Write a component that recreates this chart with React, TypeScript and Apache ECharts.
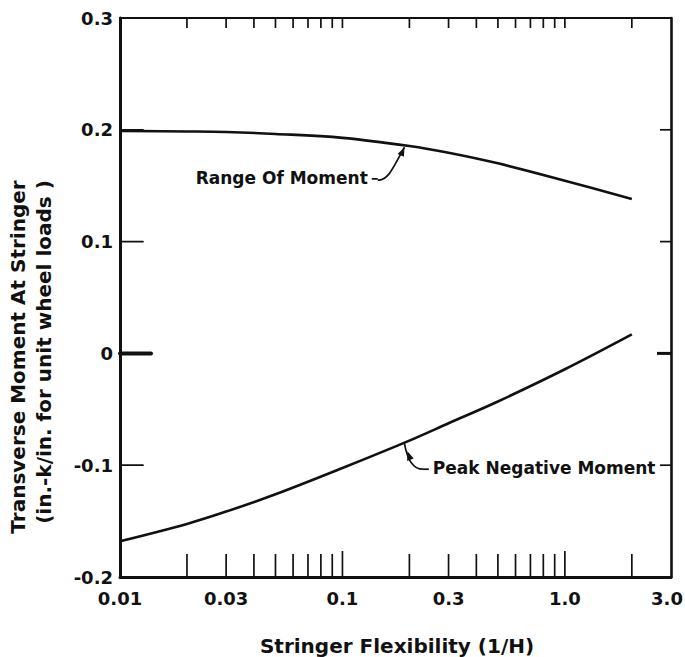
import React, { useEffect, useRef } from "react";
import * as echarts from "echarts";

// ---- data ----
const xValues = [0.01, 0.02, 0.03, 0.05, 0.1, 0.2, 0.3, 0.5, 1.0, 2.0];
const rangeOfMoment = [0.199, 0.1985, 0.198, 0.1963, 0.1928, 0.1855, 0.1795, 0.17, 0.1545, 0.138];
const peakNegativeMoment = [-0.168, -0.1525, -0.1415, -0.126, -0.1025, -0.078, -0.0625, -0.043, -0.0142, 0.017];

const xTickValues = [0.02, 0.03, 0.04, 0.05, 0.06, 0.07, 0.08, 0.09, 0.1, 0.2, 0.3, 0.4, 0.5, 0.6, 0.7, 0.8, 0.9, 1.0, 2.0];
const xLabelValues = [0.01, 0.03, 0.1, 0.3, 1.0, 3.0];
const xLabelTexts = ["0.01", "0.03", "0.1", "0.3", "1.0", "3.0"];
const yTickValues = [0.2, 0.1, 0, -0.1];

const xTitle = "Stringer Flexibility (1/H)";
const yTitle1 = "Transverse Moment At Stringer";
const yTitle2 = "(in.-k/in. for unit wheel loads )";
const rangeLabel = "Range Of Moment";
const peakLabel = "Peak Negative Moment";

// annotation anchors in data units
const rangeArrowAt = [0.19, 0.1862];
const rangeLabelAt = [0.13, 0.157];
const peakArrowAt = [0.19, -0.0795];
const peakLabelAt = [0.255, -0.1027];

const FONT = "'DejaVu Sans', sans-serif";
const INK = "#111";

function arrowHead(ax: number, ay: number, dx: number, dy: number, L = 9, W = 3.5) {
  const len = Math.hypot(dx, dy);
  const ux = dx / len, uy = dy / len;
  const bx = ax - ux * L, by = ay - uy * L;
  const nx = -uy, ny = ux;
  return [[ax, ay], [bx + nx * W, by + ny * W], [bx - nx * W, by - ny * W]];
}

export default function App() {
  const ref = useRef<HTMLDivElement>(null);
  useEffect(() => {
    document.body.style.margin = "0";
    const chart = echarts.init(ref.current!, null, { renderer: "svg" });
    const yFmt = (v: number) => (Math.abs(v) < 1e-9 ? "0" : v.toFixed(1));
    chart.setOption({
      animation: false,
      backgroundColor: "#fff",
      grid: { left: 120, right: 14, top: 18, bottom: 80, containLabel: false },
      xAxis: [
        {
          type: "log", logBase: 10, min: 0.01, max: 3,
          axisLine: { onZero: false, lineStyle: { color: INK, width: 3 } },
          axisTick: { show: false }, axisLabel: { show: false }, splitLine: { show: false },
        },
        {
          type: "log", logBase: 10, min: 0.01, max: 3, position: "top",
          axisLine: { onZero: false, lineStyle: { color: INK, width: 2.2 } },
          axisTick: { show: false }, axisLabel: { show: false }, splitLine: { show: false },
        },
      ],
      yAxis: [
        {
          type: "value", min: -0.2, max: 0.3, interval: 0.1,
          axisLine: { show: true, onZero: false, lineStyle: { color: INK, width: 3 } },
          axisTick: { show: false }, splitLine: { show: false },
          axisLabel: { color: INK, fontSize: 18, fontFamily: FONT, fontWeight: "bold", margin: 7, formatter: yFmt },
        },
        {
          type: "value", min: -0.2, max: 0.3, interval: 0.1, position: "right",
          axisLine: { show: true, onZero: false, lineStyle: { color: INK, width: 2.6 } },
          axisTick: { show: false }, axisLabel: { show: false }, splitLine: { show: false },
        },
      ],
      series: [
        {
          name: rangeLabel, type: "line", smooth: 0.35, showSymbol: false,
          lineStyle: { color: INK, width: 2.6 },
          data: xValues.map((x, i) => [x, rangeOfMoment[i]]),
        },
        {
          name: peakLabel, type: "line", smooth: 0.35, showSymbol: false,
          lineStyle: { color: INK, width: 2.6 },
          data: xValues.map((x, i) => [x, peakNegativeMoment[i]]),
        },
        {
          // inward ticks on the bottom frame
          type: "custom", silent: true, clip: false, z: 5,
          data: xTickValues.map((v) => [v, -0.2]),
          renderItem: (params: any, api: any) => {
            const v = api.value(0);
            const b = api.coord([v, -0.2]);
            const long = v === 0.1 || v === 1.0;
            return { type: "line", shape: { x1: b[0], y1: b[1], x2: b[0], y2: b[1] - (long ? 26 : 23) }, style: { stroke: INK, lineWidth: 1.7 } };
          },
        },
        {
          type: "custom", silent: true, clip: false, z: 5,
          data: yTickValues.map((v) => [0.01, v]),
          renderItem: (params: any, api: any) => {
            const v = api.value(1);
            const l = api.coord([0.01, v]);
            const r = api.coord([3, v]);
            const zero = Math.abs(v) < 1e-9;
            return {
              type: "group",
              children: [
                { type: "line", shape: { x1: l[0], y1: l[1], x2: l[0] + (zero ? 31 : 23), y2: l[1] }, style: { stroke: INK, lineWidth: zero ? 4 : 1.7, lineCap: "round" } },
                { type: "line", shape: { x1: r[0], y1: r[1], x2: r[0] - (zero ? 14 : 11), y2: r[1] }, style: { stroke: INK, lineWidth: zero ? 3 : 1.7 } },
              ],
            };
          },
        },
        {
          type: "custom", silent: true, clip: false,
          data: xLabelValues.map((v) => [v, -0.2]),
          renderItem: (params: any, api: any) => {
            const v = api.value(0);
            const b = api.coord([v, -0.2]);
            const last = params.dataIndex === xLabelValues.length - 1;
            return {
              type: "text",
              x: b[0] - (last ? 4 : 0), y: b[1] + 21,
              style: {
                text: xLabelTexts[params.dataIndex], fill: INK, fontSize: 18, fontFamily: FONT, fontWeight: "bold",
                textAlign: "center", textVerticalAlign: "middle",
              },
            };
          },
        },
      ],
    });

    const px = (p: number[]) => chart.convertToPixel({ xAxisIndex: 0, yAxisIndex: 0 }, p) as number[];
    const rt = px(rangeArrowAt);
    const rl = px(rangeLabelAt);
    const pt = px(peakArrowAt);
    const pl = px(peakLabelAt);

    const titleStyle = { fill: INK, fontSize: 20, fontFamily: FONT, fontWeight: "bold" };
    const noteStyle = { fill: INK, fontSize: 17, fontFamily: FONT, fontWeight: "bold" };
    const lineStyle = { stroke: INK, lineWidth: 1.7, fill: null };

    // inward ticks on the top frame, positioned through the axis scale
    const topTicks = xTickValues.map((v) => {
      const p = px([v, 0.3]);
      return { type: "line", z: 100, shape: { x1: p[0], y1: p[1], x2: p[0], y2: p[1] + 10 }, style: { stroke: INK, lineWidth: 1.7 } };
    });

    chart.setOption({
      graphic: [
        ...topTicks,
        { type: "text", x: 397, y: 646, style: { ...titleStyle, text: xTitle, textAlign: "center", textVerticalAlign: "middle" } },
        { type: "text", x: 18, y: 357, rotation: Math.PI / 2, style: { ...titleStyle, text: yTitle1, textAlign: "center", textVerticalAlign: "middle" } },
        { type: "text", x: 44, y: 352, rotation: Math.PI / 2, style: { ...titleStyle, text: yTitle2, textAlign: "center", textVerticalAlign: "middle" } },
        // Range Of Moment annotation
        { type: "text", x: rl[0], y: rl[1], style: { ...noteStyle, text: rangeLabel, textAlign: "right", textVerticalAlign: "middle" } },
        { type: "line", shape: { x1: rl[0] + 4, y1: rl[1] + 1, x2: rl[0] + 10, y2: rl[1] + 1 }, style: lineStyle },
        {
          type: "bezierCurve",
          shape: { x1: rl[0] + 10, y1: rl[1] + 2, cpx1: rl[0] + 20, cpy1: rl[1] + 4, cpx2: rt[0] - 10, cpy2: rt[1] + 20, x2: rt[0], y2: rt[1] + 2 },
          style: lineStyle,
        },
        { type: "polygon", shape: { points: arrowHead(rt[0], rt[1] + 2, 0.45, -1) }, style: { fill: INK } },
        // Peak Negative Moment annotation
        { type: "text", x: pl[0], y: pl[1], style: { ...noteStyle, text: peakLabel, textAlign: "left", textVerticalAlign: "middle" } },
        { type: "line", shape: { x1: pl[0] - 10, y1: pl[1] + 1, x2: pl[0] - 4, y2: pl[1] + 1 }, style: lineStyle },
        {
          type: "bezierCurve",
          shape: { x1: pl[0] - 10, y1: pl[1] + 1, cpx1: pl[0] - 20, cpy1: pl[1] + 1, cpx2: pt[0] + 3, cpy2: pt[1] + 18, x2: pt[0], y2: pt[1] + 1 },
          style: lineStyle,
        },
        { type: "polygon", shape: { points: arrowHead(pt[0] + 3, pt[1] + 9, -0.35, -1) }, style: { fill: INK } },
      ],
    });

    return () => chart.dispose();
  }, []);
  return <div ref={ref} style={{ width: 685, height: 657 }} />;
}
